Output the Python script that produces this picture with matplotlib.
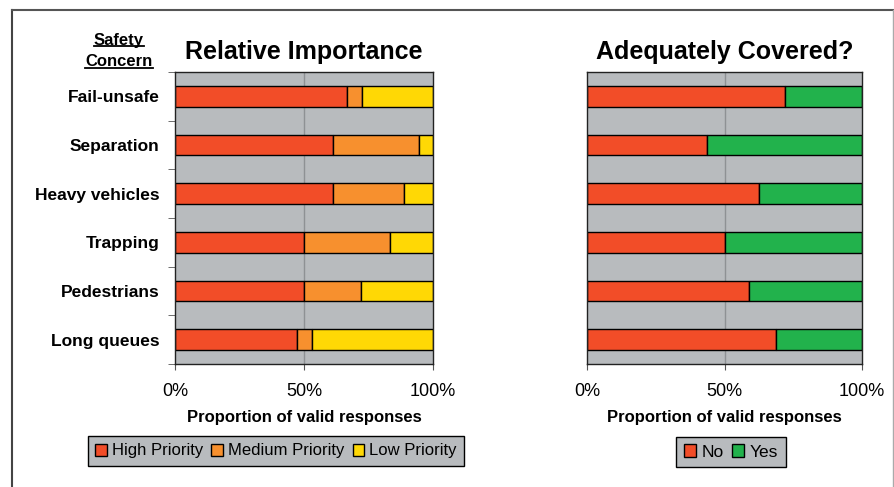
import numpy as np
import matplotlib.pyplot as plt
from matplotlib.lines import Line2D
from matplotlib.patches import Patch

plt.rcParams['font.family'] = ['Liberation Sans', 'DejaVu Sans']

# datos (de arriba hacia abajo)
categorias = ['Fail-unsafe', 'Separation', 'Heavy vehicles', 'Trapping', 'Pedestrians', 'Long queues']
alta = [0.667, 0.611, 0.611, 0.500, 0.500, 0.471]
media = [0.056, 0.333, 0.278, 0.333, 0.222, 0.059]
baja = [0.277, 0.056, 0.111, 0.167, 0.278, 0.470]
no_cub = [0.720, 0.438, 0.626, 0.500, 0.589, 0.687]
si_cub = [0.280, 0.562, 0.374, 0.500, 0.411, 0.313]
ticks_x = [0, 0.5, 1.0]
etiquetas_x = ['0%', '50%', '100%']

rojo = '#F24D28'
naranja = '#F7902E'
amarillo = '#FFD805'
verde = '#22B24C'
gris = '#B8BBBE'

fig = plt.figure(figsize=(8.94, 4.87), dpi=100)
ax1 = fig.add_axes([175/894, 1-364/487, 258/894, 292/487])
ax2 = fig.add_axes([587/894, 1-364/487, 275/894, 292/487])

y = np.arange(len(categorias))
alto = 0.42


def preparar(ax):
    ax.set_facecolor(gris)
    ax.set_xlim(0, 1)
    ax.set_ylim(len(categorias) - 0.5, -0.5)
    ax.axvline(0.5, color='#8E9194', lw=1, zorder=0.5)
    ax.set_xticks(ticks_x)
    ax.set_xticklabels(etiquetas_x, fontsize=13)
    ax.tick_params(axis='x', direction='out', length=4, pad=10, color='#555555')
    ax.set_xlabel('Proportion of valid responses', fontsize=12, fontweight='bold', labelpad=7)
    for s in ax.spines.values():
        s.set_color('#222222')
        s.set_linewidth(1)


preparar(ax1)
izq = np.zeros(len(categorias))
for vals, col, nom in [(alta, rojo, 'High Priority'), (media, naranja, 'Medium Priority'), (baja, amarillo, 'Low Priority')]:
    ax1.barh(y, vals, left=izq, height=alto, color=col, edgecolor='black', lw=1, zorder=2, label=nom)
    izq = izq + np.array(vals)
ax1.set_yticks(y)
ax1.set_yticklabels(categorias, fontsize=12.5, fontweight='bold')
ax1.tick_params(axis='y', which='major', length=0, pad=11)
ax1.set_yticks(np.arange(len(categorias) + 1) - 0.5, minor=True)
ax1.tick_params(axis='y', which='minor', length=5, direction='out', color='#555555')
ax1.set_title('Relative Importance', fontsize=18, fontweight='bold', pad=9)

preparar(ax2)
ax2.barh(y, no_cub, height=alto, color=rojo, edgecolor='black', lw=1, zorder=2)
ax2.barh(y, si_cub, left=no_cub, height=alto, color=verde, edgecolor='black', lw=1, zorder=2)
ax2.set_yticks([])
ax2.set_title('Adequately Covered?', fontsize=18, fontweight='bold', pad=9)

# leyendas
h1 = [Patch(facecolor=c, edgecolor='black', lw=1) for c in [rojo, naranja, amarillo]]
leg1 = fig.legend(h1, ['High Priority', 'Medium Priority', 'Low Priority'], loc='center',
                  bbox_to_anchor=(276/894, 1-451/487), ncol=3, fontsize=12, frameon=True,
                  fancybox=False, handlelength=0.7, handleheight=0.7, handletextpad=0.3,
                  columnspacing=0.5, borderpad=0.45, borderaxespad=0)
leg1.get_frame().set_facecolor(gris)
leg1.get_frame().set_edgecolor('black')
leg1.get_frame().set_alpha(1)

h2 = [Patch(facecolor=c, edgecolor='black', lw=1) for c in [rojo, verde]]
leg2 = fig.legend(h2, ['No', 'Yes'], loc='center', bbox_to_anchor=(731/894, 1-452/487),
                  ncol=2, fontsize=12.5, frameon=True, fancybox=False, handlelength=0.7,
                  handleheight=0.7, handletextpad=0.3, columnspacing=0.5, borderpad=0.45,
                  borderaxespad=0)
leg2.get_frame().set_facecolor(gris)
leg2.get_frame().set_edgecolor('black')
leg2.get_frame().set_alpha(1)

# encabezado subrayado
t1 = fig.text(119/894, 1-40/487, 'Safety', ha='center', va='center', fontsize=12, fontweight='bold')
t2 = fig.text(119/894, 1-62/487, 'Concern', ha='center', va='center', fontsize=12, fontweight='bold')
fig.canvas.draw()
r = fig.canvas.get_renderer()
for t in [t1, t2]:
    bb = t.get_window_extent(r).transformed(fig.transFigure.inverted())
    fig.add_artist(Line2D([bb.x0, bb.x1], [bb.y0 + 0.004, bb.y0 + 0.004], color='black', lw=1.3))

# marco exterior
fig.add_artist(Line2D([12/894, 12/894], [0, 1-10/487], color='#444444', lw=1.5))
fig.add_artist(Line2D([12/894, 1], [1-10/487, 1-10/487], color='#555555', lw=1.5))
fig.add_artist(Line2D([893/894, 893/894], [0, 1-10/487], color='#AAAAAA', lw=1))

fig.savefig('out.png', dpi=100)
